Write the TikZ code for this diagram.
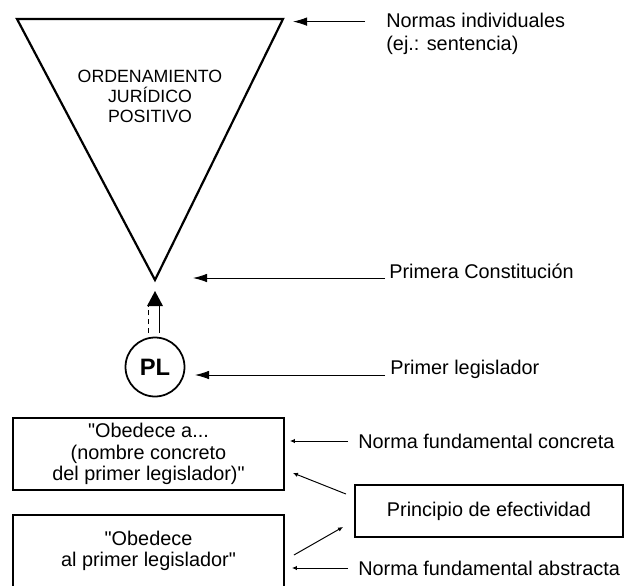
\documentclass[tikz,border=0pt]{standalone}
\usepackage{fontspec}
\setmainfont{Liberation Sans}[Ligatures=TeXOff]
\usetikzlibrary{arrows.meta}
\tikzset{
  lbl/.style={anchor=west, inner sep=0pt, align=left, font=\fontsize{11.3}{12.8}\selectfont},
  bigarr/.style={-{Latex[length=0.28cm,width=0.17cm]}, line width=0.5pt},
  smallarr/.style={-{Latex[length=0.1cm,width=0.09cm]}, line width=0.55pt},
  txtbox/.style={draw, line width=1.1pt, minimum width=5.42cm, inner sep=0pt, align=center, font=\fontsize{11.3}{12.2}\selectfont},
}
\begin{document}
\begin{tikzpicture}[x=0.02cm, y=-0.02cm]
  \useasboundingbox (0,0) rectangle (625,585);
  %%%%%%%%%%%%%%%%%%%%%%%%%%%%%%%%%%%%%%%%%%%%%%%
  \coordinate (tl) at (17,19);
  \coordinate (tr) at (283,19);
  \coordinate (tv) at (155,280);
  \draw[line width=1.25pt] (tl) -- (tr) -- (tv) -- cycle;
  \node[align=center, inner sep=0pt, font=\fontsize{10.1}{11.4}\selectfont] (oj) at (150,96) {ORDENAMIENTO\\JURÍDICO\\POSITIVO};
  %%%%%%%%%%%%%%%%%%%%%%%%%%%%%%%%%%%%%%%%%%%%%%%
  \node[lbl] (normas) at (386,34) {Normas individuales\\(ej.: sentencia)};
  \coordinate (a1) at (365,21.6);
  \coordinate (a1t) at (293,21.6);
  \draw[bigarr] (a1) -- (a1t);
  %%%%%%%%%%%%%%%%%%%%%%%%%%%%%%%%%%%%%%%%%%%%%%%
  \node[lbl] (primera) at (389,271) {Primera Constitución};
  \coordinate (a2) at (385,278);
  \coordinate (a2t) at (193,278);
  \draw[bigarr] (a2) -- (a2t);
  %%%%%%%%%%%%%%%%%%%%%%%%%%%%%%%%%%%%%%%%%%%%%%%
  \node[circle, draw, line width=1pt, minimum size=1.18cm, inner sep=0pt, font=\bfseries\fontsize{13.5}{13.5}\selectfont] (pl) at (155,367) {PL};
  \draw[densely dashed, line width=0.55pt] (148.5,333) -- (148.5,306);
  \draw[line width=0.55pt] (159,333) -- (159,306);
  \fill (147,306) -- (155,291) -- (163,306) -- cycle;
  \node[lbl] (primer) at (390,369) {Primer legislador};
  \coordinate (a3) at (385,375);
  \coordinate (a3t) at (195,375);
  \draw[bigarr] (a3) -- (a3t);
  %%%%%%%%%%%%%%%%%%%%%%%%%%%%%%%%%%%%%%%%%%%%%%%
  \node[txtbox, minimum height=1.44cm] (ob1) at (148.5,454) {"Obedece a...\\(nombre concreto\\del primer legislador)"};
  \node[txtbox, minimum height=1.44cm] (ob2) at (148.5,551) {"Obedece\\al primer legislador"};
  \node[txtbox, minimum width=5.36cm, minimum height=1.04cm] (pe) at (489,511) {Principio de efectividad};
  \node[lbl] (nfc) at (358,441) {Norma fundamental concreta};
  \node[lbl] (nfa) at (358,568) {Norma fundamental abstracta};
  \draw[smallarr] ([xshift=-0.2cm]nfc.west) -- ([xshift=0.1cm]ob1.east |- nfc.west);
  \draw[smallarr] ([xshift=-0.2cm]nfa.west) -- ([xshift=0.14cm]ob2.east |- nfa.west);
  \draw[smallarr] ([shift={(-0.16cm,-0.2cm)}]pe.north west) -- ([shift={(0.16cm,0.36cm)}]ob1.south east);
  \draw[smallarr] ([shift={(0.18cm,-0.08cm)}]ob2.east) -- ([shift={(-0.22cm,0.22cm)}]pe.south west);
\end{tikzpicture}
\end{document}
